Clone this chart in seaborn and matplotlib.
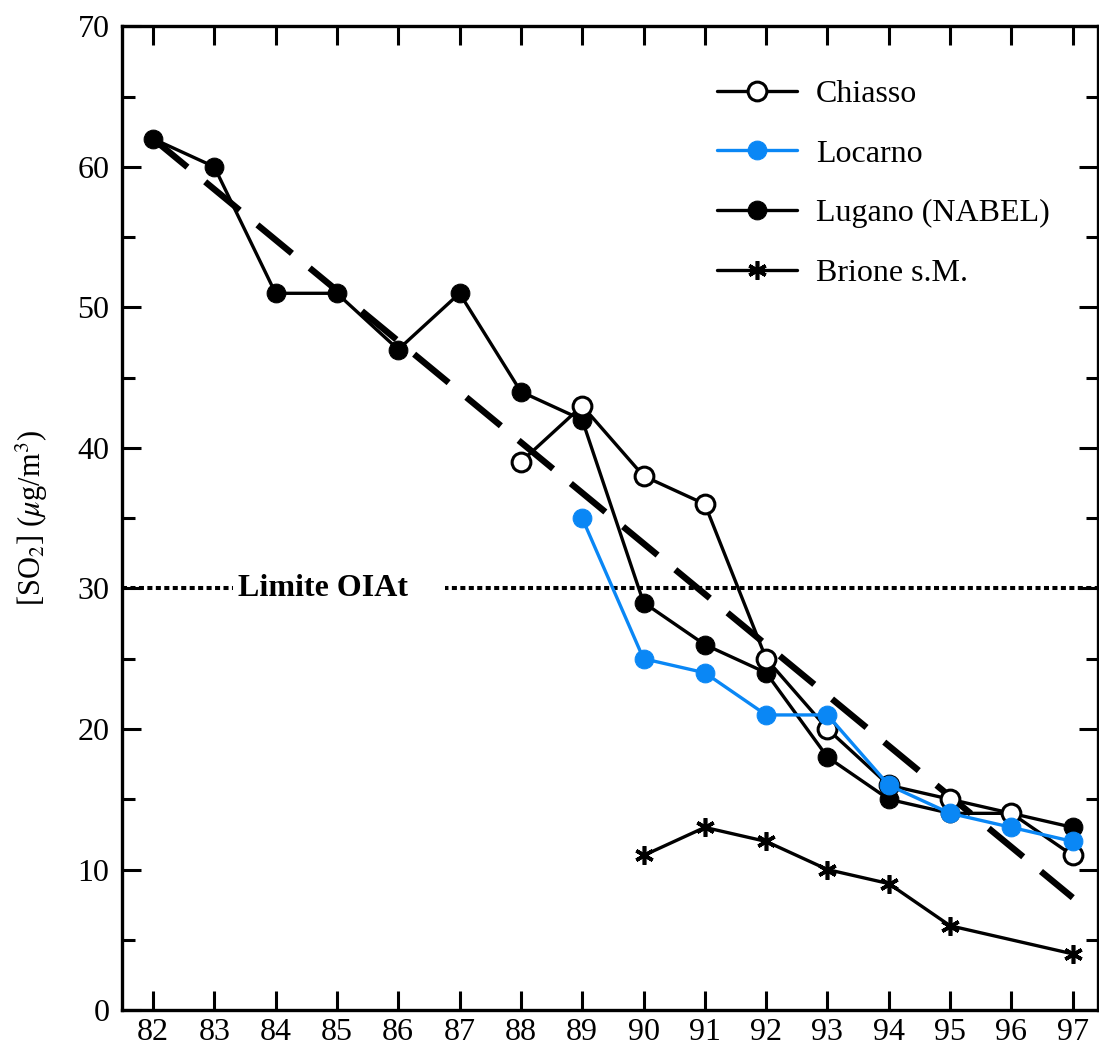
import matplotlib
matplotlib.use("Agg")
import matplotlib.pyplot as plt
import seaborn as sns
import pandas as pd
import numpy as np

# ---- data ----
years_lugano = [82, 83, 84, 85, 86, 87, 88, 89, 90, 91, 92, 93, 94, 95, 96, 97]
lugano = [62, 60, 51, 51, 47, 51, 44, 42, 29, 26, 24, 18, 15, 14, 14, 13]

years_chiasso = [88, 89, 90, 91, 92, 93, 94, 95, 96, 97]
chiasso = [39, 43, 38, 36, 25, 20, 16, 15, 14, 11]

years_locarno = [89, 90, 91, 92, 93, 94, 95, 96, 97]
locarno = [35, 25, 24, 21, 21, 16, 14, 13, 12]

years_brione = [90, 91, 92, 93, 94, 95, 97]
brione = [11, 13, 12, 10, 9, 6, 4]

trend_years = [82, 97]
trend_values = [62, 8]

limit_value = 30
limit_label = "Limite OIAt"
xticks = list(range(82, 98))
yticks = [0, 10, 20, 30, 40, 50, 60, 70]

# ---- style ----
sns.set_style("ticks")
plt.rcParams["font.family"] = ["Liberation Serif", "DejaVu Serif"]
plt.rcParams["mathtext.fontset"] = "stix"
plt.rcParams["text.color"] = "black"
plt.rcParams["axes.labelcolor"] = "black"
plt.rcParams["xtick.color"] = "black"
plt.rcParams["ytick.color"] = "black"
plt.rcParams["axes.edgecolor"] = "black"

fig = plt.figure(figsize=(10.99, 10.5), dpi=100)
ax = fig.add_axes([0.111, 0.038, 0.888, 0.937])

BLUE = "#0A87F5"
lw = 2.4
ms = 13.5

# trend line
sns.lineplot(x=trend_years, y=trend_values, ax=ax, color="black", lw=4.6,
             linestyle=(0, (7.0, 3.6)), legend=False, zorder=1)
ax.lines[-1].set_dash_capstyle("butt")

# limit line
ax.axhline(limit_value, color="black", lw=2.9, linestyle=(0, (1.25, 0.85)), zorder=1)
ax.text(83.386, limit_value, limit_label + "    ", ha="left", va="center", fontsize=23,
        fontweight="bold", zorder=2,
        bbox=dict(boxstyle="square,pad=0.15", facecolor="white", edgecolor="none"))

sns.lineplot(x=years_lugano, y=lugano, ax=ax, color="black", lw=lw, marker="o",
             markersize=ms, markeredgecolor="black", markerfacecolor="black",
             label="Lugano (NABEL)", zorder=3)
sns.lineplot(x=years_chiasso, y=chiasso, ax=ax, color="black", lw=lw, marker="o",
             markersize=ms, markeredgecolor="black", markerfacecolor="white",
             markeredgewidth=2.2, label="Chiasso", zorder=4)
sns.lineplot(x=years_locarno, y=locarno, ax=ax, color=BLUE, lw=lw, marker="o",
             markersize=ms, markeredgecolor=BLUE, markerfacecolor=BLUE,
             label="Locarno", zorder=5)
sns.lineplot(x=years_brione, y=brione, ax=ax, color="black", lw=lw, marker=(6, 2, 0),
             markersize=ms, markeredgecolor="black", markeredgewidth=2.6,
             label="Brione s.M.", zorder=3)

ax.set_xlim(81.495, 97.41)
ax.set_ylim(0, 70)
ax.set_xticks(xticks)
ax.set_xticklabels([str(t) for t in xticks])
ax.set_yticks(yticks)
ax.set_yticks(np.arange(5, 70, 10), minor=True)
ax.tick_params(axis="both", which="major", direction="in", length=14, width=2.2,
               labelsize=23, top=True, right=True, pad=6)
ax.tick_params(axis="y", which="minor", direction="in", length=9, width=2.2, right=True)
ax.tick_params(axis="y", which="major", pad=9)
for s in ax.spines.values():
    s.set_linewidth(2.4)
    s.set_visible(True)

ax.set_xlabel("")
ax.set_ylabel(r"[SO$_2$] ($\mu$g/m$^3$)", fontsize=22, labelpad=20)

handles, labels = ax.get_legend_handles_labels()
order = ["Chiasso", "Locarno", "Lugano (NABEL)", "Brione s.M."]
hmap = dict(zip(labels, handles))
ax.legend([hmap[k] for k in order], order, loc="upper right",
          bbox_to_anchor=(0.98, 0.975), frameon=False, fontsize=23,
          handlelength=2.5, handletextpad=0.6, labelspacing=0.95)

fig.savefig("out.png", dpi=100)
